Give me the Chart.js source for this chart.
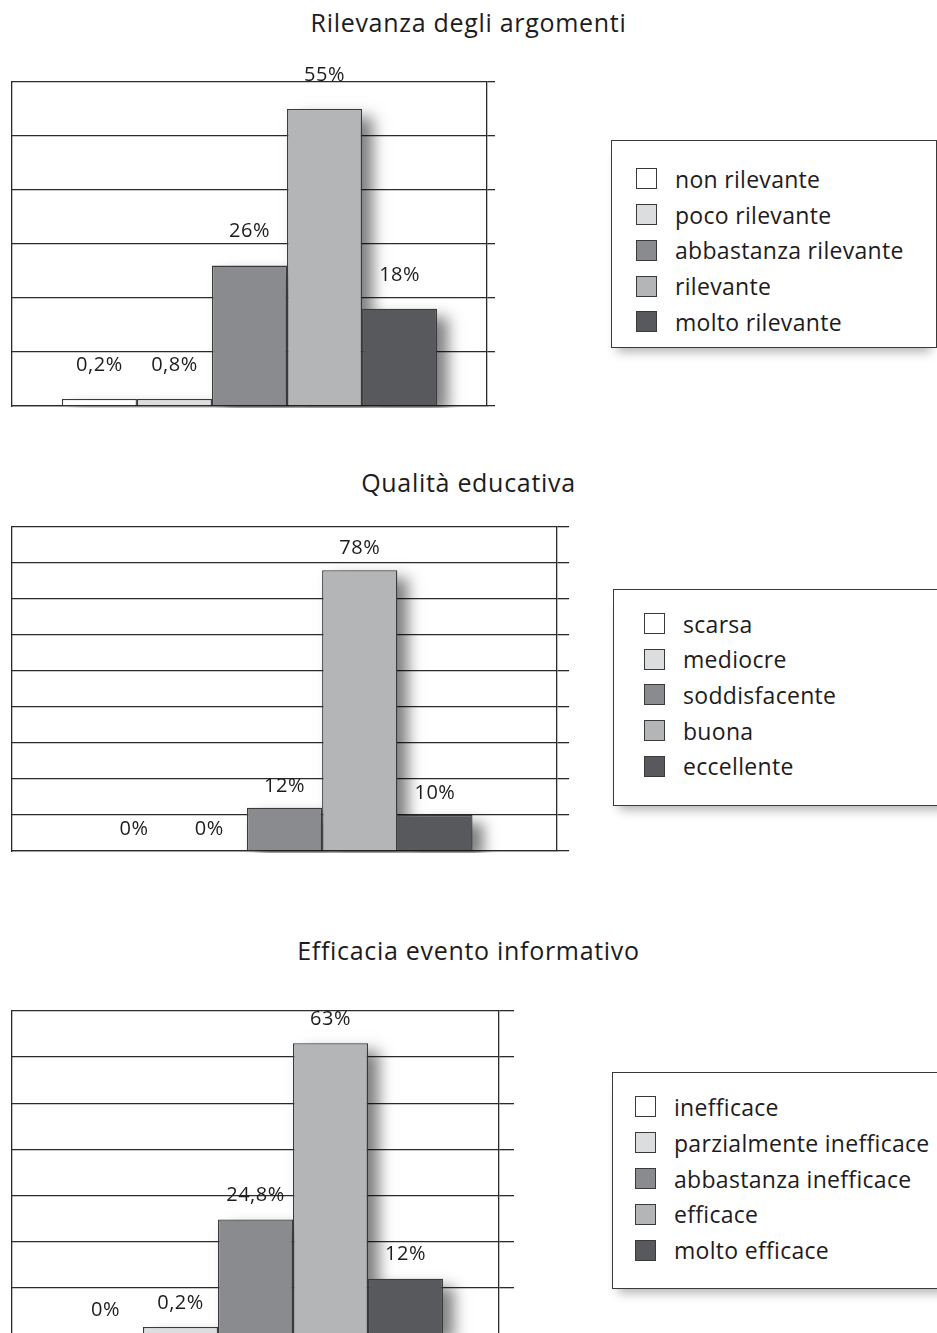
<!DOCTYPE html>
<html lang="it">
<head>
  <meta charset="UTF-8">
  <title>Valutazione evento informativo</title>
  <script src="https://cdn.jsdelivr.net/npm/chart.js"></script>
  <style>
    body {
      margin: 0;
      background: #fff;
      width: 937px;
      height: 1333px;
      overflow: hidden;
      position: relative;
      font-family: "Open Sans", "Noto Sans", sans-serif;
      color: #1e1b1c;
    }
    .title {
      position: absolute;
      left: 0;
      width: 937px;
      text-align: center;
      font-size: 25px;
      letter-spacing: 0.7px;
      line-height: 30px;
    }
    .plot {
      position: absolute;
      left: 0;
    }
    .legend {
      position: absolute;
      box-sizing: border-box;
      border: 1.3px solid #3a3a3a;
      background: #fff;
      box-shadow: 0 10px 10px -6px rgba(0,0,0,0.3);
    }
    .legend .item {
      position: absolute;
      display: flex;
      align-items: center;
      height: 36px;
      font-size: 23px;
      letter-spacing: 0.3px;
      white-space: nowrap;
    }
    .legend .swatch {
      width: 21px;
      height: 21px;
      box-sizing: border-box;
      border: 1.4px solid #3a3a3a;
      margin-right: 18px;
    }
  </style>
</head>
<body>
  <div class="title" style="top:7px">Rilevanza degli argomenti</div>
  <canvas id="chart1" class="plot" width="500" height="356" style="top:52px"></canvas>
  <div id="legend1" class="legend" style="left:611px; top:140px; width:326px; height:208px"></div>

  <div class="title" style="top:467px">Qualità educativa</div>
  <canvas id="chart2" class="plot" width="574" height="356" style="top:497px"></canvas>
  <div id="legend2" class="legend" style="left:613px; top:589px; width:340px; height:217px"></div>

  <div class="title" style="top:935px">Efficacia evento informativo</div>
  <canvas id="chart3" class="plot" width="519" height="355" style="top:981px"></canvas>
  <div id="legend3" class="legend" style="left:612px; top:1072px; width:340px; height:217px"></div>

  <script>
    // data
    const relevanceLabels = ['non rilevante', 'poco rilevante', 'abbastanza rilevante', 'rilevante', 'molto rilevante'];
    const relevanceValues = [0.2, 0.8, 26, 55, 18];

    const qualityLabels = ['scarsa', 'mediocre', 'soddisfacente', 'buona', 'eccellente'];
    const qualityValues = [0, 0, 12, 78, 10];

    const efficacyLabels = ['inefficace', 'parzialmente inefficace', 'abbastanza inefficace', 'efficace', 'molto efficace'];
    const efficacyValues = [0, 0.2, 24.8, 63, 12];

    const barColors = ['#ffffff', '#dcdddf', '#8a8b8e', '#b4b5b7', '#58595c'];
    const lineColor = '#2b2b2b';

    function fmt(v) {
      return String(v).replace('.', ',') + '%';
    }

    // soft shadow to the right of the bars, drawn before the bars so they cover it
    const barShadow = {
      id: 'barShadow',
      beforeDatasetsDraw(chart) {
        const ctx = chart.ctx;
        const far = 3000;
        ctx.save();
        ctx.shadowColor = 'rgba(0,0,0,0.5)';
        ctx.shadowBlur = 14;
        ctx.shadowOffsetX = far + 11;
        ctx.shadowOffsetY = 8;
        ctx.fillStyle = '#000';
        chart.data.datasets.forEach((ds, i) => {
          chart.getDatasetMeta(i).data.forEach(bar => {
            const h = bar.base - bar.y;
            if (h > 0) ctx.fillRect(bar.x - bar.width / 2 - far, bar.y, bar.width, h);
          });
        });
        ctx.restore();
      }
    };

    // percentage above each bar
    const valueLabels = {
      id: 'valueLabels',
      afterDatasetsDraw(chart, args, opts) {
        const ctx = chart.ctx;
        ctx.save();
        ctx.font = '20px "Open Sans"';
        ctx.letterSpacing = '0.5px';
        ctx.fillStyle = '#1e1b1c';
        ctx.textAlign = 'center';
        ctx.textBaseline = 'middle';
        chart.data.datasets.forEach((ds, i) => {
          const bar = chart.getDatasetMeta(i).data[0];
          ctx.fillText(fmt(ds.data[0]), bar.x, bar.y - opts.offset);
        });
        ctx.restore();
      }
    };

    function buildLegend(id, labels, swatchLeft, firstCenter, spacing) {
      const box = document.getElementById(id);
      labels.forEach((label, i) => {
        const item = document.createElement('div');
        item.className = 'item';
        item.style.left = swatchLeft + 'px';
        item.style.top = (firstCenter + i * spacing - 18) + 'px';
        const sw = document.createElement('span');
        sw.className = 'swatch';
        sw.style.background = barColors[i];
        const txt = document.createElement('span');
        txt.textContent = label;
        item.appendChild(sw);
        item.appendChild(txt);
        box.appendChild(item);
      });
    }

    function makeChart(canvasId, labels, values, yMax, groupPct, tickLen, labelOffset) {
      return new Chart(document.getElementById(canvasId), {
        type: 'bar',
        data: {
          labels: [''],
          datasets: labels.map((label, i) => ({
            label: label,
            data: [values[i]],
            backgroundColor: barColors[i],
            borderColor: '#3a3a3a',
            borderWidth: 1.3,
            minBarLength: values[i] > 0 ? 7 : 0,
            categoryPercentage: groupPct,
            barPercentage: 1
          }))
        },
        options: {
          responsive: false,
          animation: false,
          devicePixelRatio: 1,
          layout: { padding: { left: 12, top: 30, right: 5, bottom: 2 } },
          plugins: {
            legend: { display: false },
            tooltip: { enabled: false },
            valueLabels: { offset: labelOffset }
          },
          scales: {
            x: {
              offset: true,
              grid: { display: false, drawTicks: false },
              ticks: { display: false },
              border: { display: true, color: lineColor, width: 1.3 }
            },
            y: {
              position: 'right',
              min: 0,
              max: yMax,
              ticks: { display: false, stepSize: 10 },
              grid: { color: lineColor, lineWidth: 1.3, drawTicks: true, tickLength: tickLen },
              border: { display: true, color: lineColor, width: 1.3 }
            },
            yLeft: {
              type: 'linear',
              position: 'left',
              display: true,
              grid: { display: false, drawTicks: false },
              ticks: { display: false },
              border: { display: true, color: lineColor, width: 1.3 }
            }
          }
        },
        plugins: [barShadow, valueLabels]
      });
    }

    makeChart('chart1', relevanceLabels, relevanceValues, 60, 0.79, 8, 34);
    makeChart('chart2', qualityLabels, qualityValues, 90, 0.69, 12, 22);
    makeChart('chart3', efficacyLabels, efficacyValues, 70, 0.77, 15, 24);

    buildLegend('legend1', relevanceLabels, 24, 37.7, 35.8);
    buildLegend('legend2', qualityLabels, 30, 33.7, 35.6);
    buildLegend('legend3', efficacyLabels, 22, 33.7, 35.9);
  </script>
</body>
</html>
